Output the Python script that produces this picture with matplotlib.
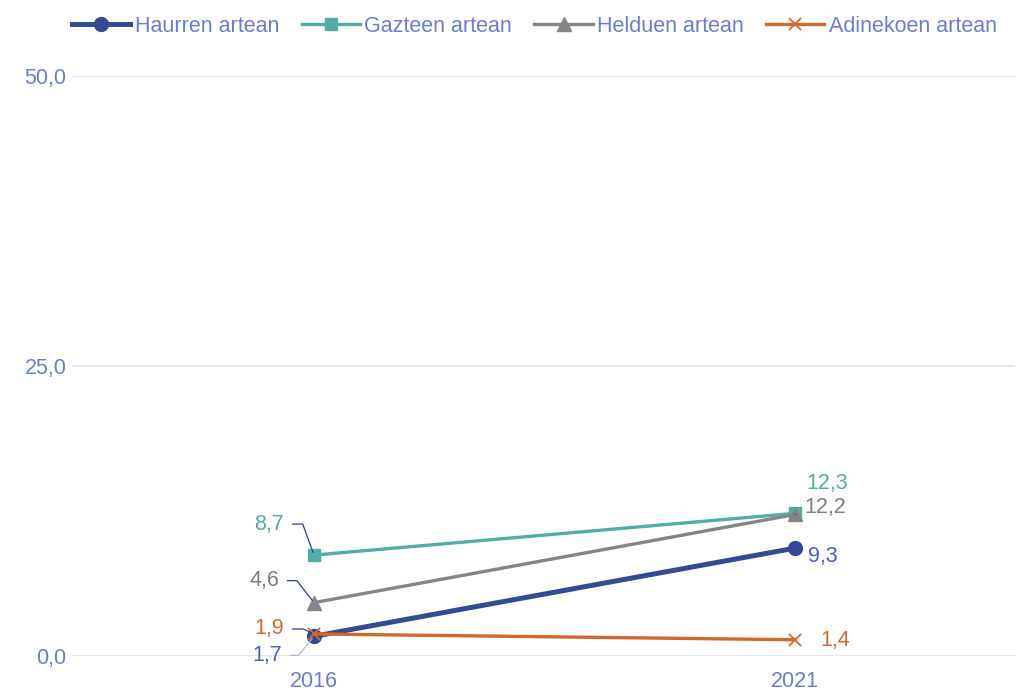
"""Adin taldeen bilakaera 2016-2021: lerro grafikoa, etiketak markatuta."""
import matplotlib
matplotlib.use("Agg")
import matplotlib.pyplot as plt

plt.rcParams["font.family"] = ["Liberation Sans", "DejaVu Sans"]

# ---- datuak ----
years = ["2016", "2021"]
series = ["Haurren artean", "Gazteen artean", "Helduen artean", "Adinekoen artean"]
haurren = [1.7, 9.3]
gazteen = [8.7, 12.3]
helduen = [4.6, 12.2]
adinekoen = [1.9, 1.4]
yticks = [0, 25, 50]

# ---- estiloa ----
TICK = "#6a7ed0"
GRID = "#dfe2f2"
LEADER = "#2f3f8a"
FS = 15.5
styles = {
    "Haurren artean": dict(color="#334a94", marker="o", ms=10, lw=3.6, label_color="#4a5fc2"),
    "Gazteen artean": dict(color="#52ada5", marker="s", ms=9, lw=2.4, label_color="#52ada5"),
    "Helduen artean": dict(color="#858585", marker="^", ms=10, lw=2.4, label_color="#7f7f7f"),
    "Adinekoen artean": dict(color="#d2692b", marker="x", ms=9, lw=2.4, label_color="#d2692b"),
}
values = dict(zip(series, [haurren, gazteen, helduen, adinekoen]))

fig = plt.figure(figsize=(10.22, 6.93), dpi=100)
ax = fig.add_axes([72 / 1022, (693 - 656) / 693, (1015 - 72) / 1022, (656 - 76) / 693])

x = list(range(len(years)))
for name in series:
    st = styles[name]
    ax.plot(x, values[name], color=st["color"], lw=st["lw"], marker=st["marker"],
            ms=st["ms"], mew=1.3 if st["marker"] == "x" else 1, label=name,
            clip_on=False, zorder=3)

# ---- datu etiketak (offset pixeletan) ----
# (serie, indizea, dx, dy, ha, leader kolorea, angleB)
labels = [
    ("Gazteen artean", 0, -30, 31, "right", LEADER, 110),
    ("Helduen artean", 0, -35, 22, "right", LEADER, 128),
    ("Adinekoen artean", 0, -30, 5, "right", LEADER, 155),
    ("Haurren artean", 0, -32, -19, "right", "#aab4e6", 51),
    ("Gazteen artean", 1, 32, 30, "center", None, None),
    ("Helduen artean", 1, 9, 7, "left", LEADER, None),
    ("Haurren artean", 1, 13, -8, "left", None, None),
    ("Adinekoen artean", 1, 25, -1, "left", None, None),
]
for name, i, dx, dy, ha, lc, angb in labels:
    v = values[name][i]
    kw = {}
    if lc is not None:
        cs = f"angle,angleA=0,angleB={angb},rad=0" if angb is not None else "arc3"
        kw["arrowprops"] = dict(arrowstyle="-", color=lc, lw=0.9, connectionstyle=cs,
                                shrinkA=4, shrinkB=2)
    ax.annotate(f"{v:.1f}".replace(".", ","), xy=(i, v), xytext=(dx, dy),
                textcoords="offset pixels", ha=ha, va="center", fontsize=FS,
                color=styles[name]["label_color"], zorder=4, **kw)

# ---- ardatzak ----
ax.set_xlim(-0.503, 1.457)
ax.set_ylim(0, 50)
ax.set_xticks(x)
ax.set_xticklabels(years)
ax.set_yticks(yticks)
ax.set_yticklabels([f"{t:.1f}".replace(".", ",") for t in yticks])
ax.tick_params(axis="both", length=0, colors=TICK, labelsize=FS)
ax.tick_params(axis="x", pad=11)
ax.tick_params(axis="y", pad=4)
for s in ax.spines.values():
    s.set_visible(False)
ax.grid(axis="y", color=GRID, linewidth=1.2)
ax.set_axisbelow(True)

fig.legend(loc="upper center", bbox_to_anchor=(0.523, 1.005), ncol=4, frameon=False,
           fontsize=FS, labelcolor=TICK, handlelength=2.7, handletextpad=0.2,
           columnspacing=1.05)

fig.savefig("out.png", dpi=100, facecolor="white")
